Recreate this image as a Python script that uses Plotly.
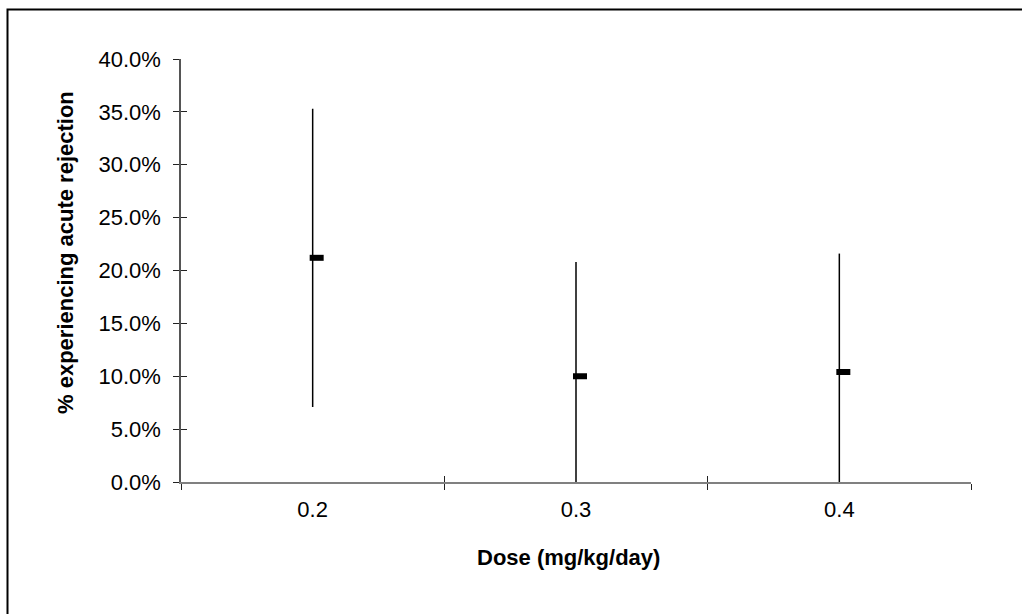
import plotly.graph_objects as go

# Data
doses = ["0.2", "0.3", "0.4"]
rate = [0.212, 0.100, 0.104]
ci_upper = [0.353, 0.208, 0.216]
ci_lower = [0.071, 0.0, 0.0]

err_plus = [u - r for u, r in zip(ci_upper, rate)]
err_minus = [r - l for r, l in zip(rate, ci_lower)]

W, H = 1022, 614
L, R, T, B = 181, 51, 59, 132
pw, ph = W - L - R, H - T - B

FONT = "Liberation Sans, Arial, sans-serif"
FS = 22

# horizontal nudge of the dash marker relative to its error line (pixels -> category units)
DASH_SHIFT_PX = 4
dash_shift = DASH_SHIFT_PX * 3 / pw
idx = list(range(len(doses)))

fig = go.Figure()
# error bars (no caps)
fig.add_trace(go.Scatter(
    x=doses, y=rate, mode="markers",
    marker=dict(size=1, color="rgba(0,0,0,0)"),
    error_y=dict(type="data", symmetric=False, array=err_plus, arrayminus=err_minus,
                 width=0, thickness=1.5, color="black"),
    showlegend=False, hoverinfo="skip",
))
# point markers: short thick dashes (on overlay numeric axes)
fig.add_trace(go.Scatter(
    x=[i + dash_shift for i in idx], y=rate, mode="markers",
    xaxis="x2", yaxis="y2",
    marker=dict(symbol="line-ew", size=10, line=dict(width=6, color="black"), color="black"),
    showlegend=False, hoverinfo="skip",
))

fig.update_layout(
    width=W, height=H,
    margin=dict(l=L, r=R, t=T, b=B),
    paper_bgcolor="white", plot_bgcolor="white",
    font=dict(family=FONT, size=FS, color="black"),
    xaxis=dict(
        type="category", range=[-0.5, 2.5], tickson="boundaries",
        ticks="outside", ticklen=6, tickcolor="#222", tickwidth=1,
        showline=True, linecolor="#808080", linewidth=2,
        showgrid=False, zeroline=False,
        tickfont=dict(size=FS), ticklabelstandoff=7,
    ),
    yaxis=dict(
        range=[0, 0.4], dtick=0.05, tickformat=".1%",
        ticks="outside", ticklen=6, tickcolor="#222", tickwidth=1,
        showline=True, linecolor="#555", linewidth=1.5,
        showgrid=False, zeroline=False,
        tickfont=dict(size=FS), ticklabelstandoff=8,
    ),
    xaxis2=dict(
        overlaying="x", anchor="y", range=[-0.5, 2.5],
        tickvals=[-0.5, 0.5, 1.5, 2.5], ticks="inside", ticklen=6,
        tickcolor="#222", tickwidth=1, showticklabels=False,
        showgrid=False, zeroline=False, showline=False,
    ),
    yaxis2=dict(
        overlaying="y", anchor="x", range=[0, 0.4], dtick=0.05,
        ticks="inside", ticklen=6, tickcolor="#222", tickwidth=1,
        showticklabels=False, showgrid=False, zeroline=False, showline=False,
    ),
    annotations=[
        dict(text="<b>Dose (mg/kg/day)</b>", xref="paper", yref="paper",
             x=(568 - L) / pw, y=(H - B - 557) / ph, showarrow=False,
             xanchor="center", yanchor="middle", font=dict(size=FS)),
        dict(text="<b>% experiencing acute rejection</b>", xref="paper", yref="paper",
             x=(65 - L) / pw, y=(H - B - 253) / ph, showarrow=False, textangle=-90,
             xanchor="center", yanchor="middle", font=dict(size=FS)),
    ],
)

# outer frame of the chart area (extends beyond the right/bottom image edges)
fig.add_shape(
    type="rect", xref="paper", yref="paper",
    x0=(7.5 - L) / pw, x1=(W + 10 - L) / pw,
    y0=(H - B - (H + 10)) / ph, y1=(H - B - 9.5) / ph,
    line=dict(color="black", width=2), fillcolor="rgba(0,0,0,0)", layer="above",
)

fig.write_html("out.html", config={"displayModeBar": False},
               post_script="document.body.style.margin='0';document.body.style.overflow='hidden';")
